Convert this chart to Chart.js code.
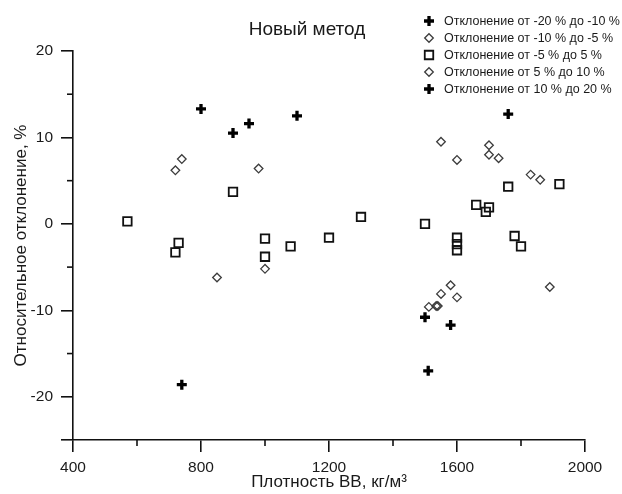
<!DOCTYPE html>
<html><head><meta charset="utf-8">
<script src="https://cdn.jsdelivr.net/npm/chart.js@4/dist/chart.umd.min.js"></script>
<style>html,body{margin:0;padding:0;background:#fff}</style>
</head><body>
<canvas id="c" width="622" height="494"></canvas>
<script>
// ---- texts ----
const chartTitle = 'Новый метод';
const xTitle = 'Плотность ВВ, кг/м³';
const yTitle = 'Относительное отклонение, %';
const seriesNames = [
  'Отклонение от -20 % до -10 %',
  'Отклонение от -10 % до -5 %',
  'Отклонение от -5 % до 5 %',
  'Отклонение от 5 % до 10 %',
  'Отклонение от 10 % до 20 %'
];
// ---- tick values ----
const xMajorTicks = [400, 800, 1200, 1600, 2000];
const xMinorTicks = [600, 1000, 1400, 1800];
const yLabelTicks = [20, 10, 0, -10, -20];
const yMinorTicks = [15, 5, -5, -15];

// ---- data ----
const s1x = [740, 1500, 1580, 1510];
const s1y = [-18.6, -10.8, -11.7, -17.0];

const s2x = [850, 1000, 1580, 1550, 1600, 1540, 1535, 1512, 1890];
const s2y = [-6.2, -5.2, -7.1, -8.1, -8.5, -9.5, -9.5, -9.6, -7.3];

const s3x = [570, 730, 720, 900, 1000, 1000, 1080, 1200, 1300, 1500, 1600, 1600, 1600, 1660, 1700, 1690, 1760, 1920, 1780, 1800];
const s3y = [0.3, -2.2, -3.3, 3.7, -1.7, -3.8, -2.6, -1.6, 0.8, 0.0, -1.6, -2.35, -3.05, 2.2, 1.9, 1.4, 4.3, 4.6, -1.4, -2.6];

const s4x = [720, 740, 980, 1550, 1600, 1700, 1700, 1730, 1830, 1860];
const s4y = [6.2, 7.5, 6.4, 9.5, 7.4, 9.1, 8.0, 7.6, 5.7, 5.1];

const s5x = [800, 900, 950, 1100, 1760];
const s5y = [13.3, 10.5, 11.6, 12.5, 12.7];

const pts = (xs, ys) => xs.map((x, i) => ({x: x, y: ys[i]}));
const FONT = '"Liberation Sans", Arial, sans-serif';

const styles = [
  {pointStyle: 'cross', radius: 5, borderWidth: 3.3, borderColor: '#000', backgroundColor: 'rgba(0,0,0,0)'},
  {pointStyle: 'rectRot', radius: 4.3, borderWidth: 1.3, borderColor: '#3c3c3c', backgroundColor: 'rgba(0,0,0,0)'},
  {pointStyle: 'rect', radius: 6, borderWidth: 1.8, borderColor: '#111', backgroundColor: 'rgba(0,0,0,0)'},
  {pointStyle: 'rectRot', radius: 4.3, borderWidth: 1.3, borderColor: '#3c3c3c', backgroundColor: 'rgba(0,0,0,0)'},
  {pointStyle: 'cross', radius: 5, borderWidth: 3.3, borderColor: '#000', backgroundColor: 'rgba(0,0,0,0)'}
];
const dataSets = [pts(s1x, s1y), pts(s2x, s2y), pts(s3x, s3y), pts(s4x, s4y), pts(s5x, s5y)];

const datasets = dataSets.map((d, i) => ({
  label: seriesNames[i],
  data: d,
  pointStyle: styles[i].pointStyle,
  pointRadius: styles[i].radius,
  pointHoverRadius: styles[i].radius,
  pointBorderWidth: styles[i].borderWidth,
  pointBorderColor: styles[i].borderColor,
  pointBackgroundColor: styles[i].backgroundColor,
  borderColor: styles[i].borderColor,
  backgroundColor: styles[i].backgroundColor,
  showLine: false
}));

const decor = {
  id: 'decor',
  afterDraw(chart) {
    const ctx = chart.ctx;
    const xs = chart.scales.x, ys = chart.scales.y;
    ctx.save();
    ctx.strokeStyle = '#111';
    ctx.lineWidth = 1.6;
    xMinorTicks.forEach(v => {
      const px = xs.getPixelForValue(v);
      ctx.beginPath(); ctx.moveTo(px, xs.top); ctx.lineTo(px, xs.top + 6); ctx.stroke();
    });
    yMinorTicks.forEach(v => {
      const py = ys.getPixelForValue(v);
      ctx.beginPath(); ctx.moveTo(ys.right, py); ctx.lineTo(ys.right - 6, py); ctx.stroke();
    });
    // title
    ctx.fillStyle = '#1a1a1a';
    ctx.font = '19px ' + FONT;
    ctx.textAlign = 'center';
    ctx.textBaseline = 'middle';
    ctx.fillText(chartTitle, 307, 30);
    // legend
    ctx.font = '12.5px ' + FONT;
    ctx.textAlign = 'left';
    seriesNames.forEach((name, i) => {
      const y = 21 + i * 17;
      const st = styles[i];
      ctx.strokeStyle = st.borderColor;
      ctx.fillStyle = st.backgroundColor;
      ctx.lineWidth = st.borderWidth;
      Chart.helpers.drawPoint(ctx, {pointStyle: st.pointStyle, radius: st.radius, borderWidth: st.borderWidth, rotation: 0}, 429, y);
      ctx.fillStyle = '#1a1a1a';
      ctx.fillText(name, 444, y + 0.5);
    });
    ctx.restore();
  }
};

new Chart(document.getElementById('c'), {
  type: 'scatter',
  data: {datasets: datasets},
  options: {
    responsive: false,
    devicePixelRatio: 1,
    animation: false,
    layout: {padding: {top: 51, right: 37, bottom: 0, left: 0}},
    plugins: {legend: {display: false}, title: {display: false}, tooltip: {enabled: false}},
    scales: {
      x: {
        type: 'linear', min: 400, max: 2000,
        afterFit: s => { s.height = 54; },
        border: {display: true, color: '#111', width: 1.6},
        grid: {
          drawOnChartArea: false, drawTicks: true, tickLength: 12, lineWidth: 1.6,
          color: c => (c.tick && xMajorTicks.includes(c.tick.value)) ? '#111' : 'rgba(0,0,0,0)'
        },
        ticks: {
          stepSize: 200, autoSkip: false, maxRotation: 0, padding: 6,
          color: '#1a1a1a', font: {family: FONT, size: 15.5},
          callback: v => xMajorTicks.includes(v) ? String(v) : ''
        },
        title: {display: true, text: xTitle, color: '#1a1a1a', font: {family: FONT, size: 17}, padding: {top: 0, bottom: 1}}
      },
      y: {
        type: 'linear', min: -25, max: 20,
        afterFit: s => { s.width = 73; },
        border: {display: true, color: '#111', width: 1.6},
        grid: {
          drawOnChartArea: false, drawTicks: true, tickLength: 12, lineWidth: 1.6,
          color: c => (c.tick && (yLabelTicks.includes(c.tick.value) || c.tick.value === -25)) ? '#111' : 'rgba(0,0,0,0)'
        },
        ticks: {
          stepSize: 5, autoSkip: false, padding: 8,
          color: '#1a1a1a', font: {family: FONT, size: 15.5},
          callback: v => yLabelTicks.includes(v) ? String(v) : ''
        },
        title: {display: true, text: yTitle, color: '#1a1a1a', font: {family: FONT, size: 17}, padding: {top: 11, bottom: 0}}
      }
    }
  },
  plugins: [decor]
});
</script>
</body></html>
